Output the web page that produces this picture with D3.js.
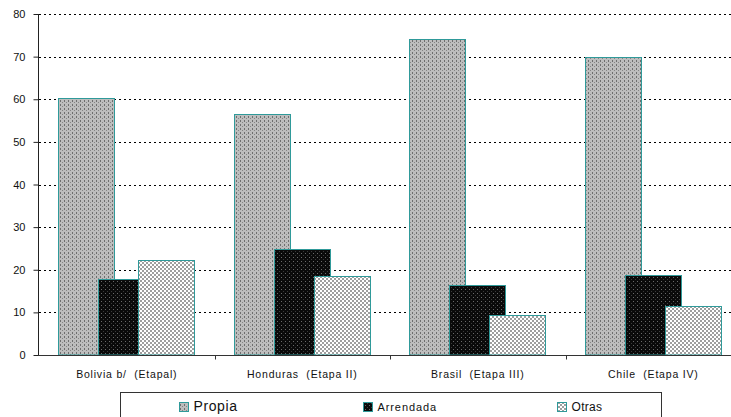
<!DOCTYPE html>
<html><head><meta charset="utf-8">
<script src="https://cdn.jsdelivr.net/npm/d3@7"></script>
<style>
html,body{margin:0;padding:0;background:#fff;}
svg{display:block;font-family:"Liberation Sans",Arial,sans-serif;}
</style></head>
<body>
<svg id="c" width="731" height="417"></svg>
<script>
const categories = ["Bolivia b/  (Etapal)", "Honduras  (Etapa II)", "Brasil  (Etapa III)", "Chile  (Etapa IV)"];
const seriesNames = ["Propia", "Arrendada", "Otras"];
const propia = [60.2, 56.6, 74.2, 69.8];
const arrendada = [17.8, 24.9, 16.4, 18.8];
const otras = [22.4, 18.5, 9.5, 11.5];
const yTicks = [0, 10, 20, 30, 40, 50, 60, 70, 80];

const seriesValues = [propia, arrendada, otras];
const patIds = ["patPropia", "patArrendada", "patOtras"];

const svg = d3.select("#c");
const defs = svg.append("defs");

// Propia pattern: light gray with darker dots
let p = defs.append("pattern").attr("id","patPropia").attr("patternUnits","userSpaceOnUse").attr("width",4).attr("height",4);
p.append("rect").attr("width",4).attr("height",4).attr("fill","#bdbdbd");
p.append("rect").attr("x",0).attr("y",0).attr("width",1).attr("height",2).attr("fill","#6e6e6e");
p.append("rect").attr("x",2).attr("y",2).attr("width",1).attr("height",1).attr("fill","#858585");
// Arrendada pattern: black with gray dots
p = defs.append("pattern").attr("id","patArrendada").attr("patternUnits","userSpaceOnUse").attr("width",4).attr("height",4);
p.append("rect").attr("width",4).attr("height",4).attr("fill","#0a0a0a");
p.append("rect").attr("x",1).attr("y",1).attr("width",1).attr("height",1).attr("fill","#6a6a6a");
p.append("rect").attr("x",3).attr("y",3).attr("width",1).attr("height",1).attr("fill","#3a3a3a");
// Otras pattern: checker
p = defs.append("pattern").attr("id","patOtras").attr("patternUnits","userSpaceOnUse").attr("width",4).attr("height",4);
p.append("rect").attr("width",4).attr("height",4).attr("fill","#ffffff");
p.append("rect").attr("x",0).attr("y",0).attr("width",2).attr("height",2).attr("fill","#9e9e9e");
p.append("rect").attr("x",2).attr("y",2).attr("width",2).attr("height",2).attr("fill","#9e9e9e");

const x = d3.scaleBand().domain(categories).range([39, 741]).paddingInner(0).paddingOuter(0);
const y = d3.scaleLinear().domain([0, 80]).range([355, 14]);

const bw = x.bandwidth();
const barW = bw * 0.325;
const step = bw * 0.228;
const lead = (bw - (2 * step + barW)) / 2;

// gridlines
svg.append("g").selectAll("line").data(yTicks.filter(d => d > 0)).join("line")
  .attr("x1", 39).attr("x2", 741)
  .attr("y1", d => Math.round(y(d)) + 0.5).attr("y2", d => Math.round(y(d)) + 0.5)
  .attr("stroke", "#000").attr("stroke-width", 1).attr("stroke-dasharray", "2,3");

// bars
seriesValues.forEach((vals, si) => {
  svg.append("g").selectAll("rect").data(vals).join("rect")
    .attr("x", (d, i) => Math.round(x(categories[i]) + lead + si * step) + 0.5)
    .attr("y", d => Math.round(y(d)) + 0.5)
    .attr("width", Math.round(barW) - 1)
    .attr("height", d => Math.round(y(0)) - Math.round(y(d)) - 0.5)
    .attr("fill", `url(#${patIds[si]})`)
    .attr("stroke", "#2f9a9a").attr("stroke-width", 1);
});

// y axis
const yAxis = d3.axisLeft(y).tickValues(yTicks).tickSize(5).tickPadding(8);
const gy = svg.append("g").attr("transform", "translate(38.5,0)").call(yAxis);
gy.select(".domain").attr("stroke", "#222").attr("d", `M0,${y(80)}V${y(0)}`);
gy.selectAll(".tick line").attr("stroke", "#222");
gy.selectAll(".tick text").attr("font-size", "11px").attr("fill", "#111")
  .attr("font-family", "Liberation Sans, Arial, sans-serif");

// x axis
const gx = svg.append("g").attr("transform", `translate(0,${Math.round(y(0)) + 0.5})`);
gx.append("line").attr("x1", 38).attr("x2", 741).attr("stroke", "#333");
gx.selectAll(".tk").data(categories.slice(1)).join("line")
  .attr("x1", d => Math.round(x(d)) + 0.5).attr("x2", d => Math.round(x(d)) + 0.5)
  .attr("y1", 0).attr("y2", 4).attr("stroke", "#333");
gx.selectAll("text").data(categories).join("text")
  .attr("x", d => x(d) + bw / 2).attr("y", 22)
  .attr("text-anchor", "middle").attr("font-size", "10.5px")
  .attr("letter-spacing", "0.8px").attr("fill", "#111")
  .style("white-space", "pre")
  .text(d => d);

// legend
const lg = svg.append("g");
lg.append("rect").attr("x", 120.5).attr("y", 392.5).attr("width", 541).attr("height", 40)
  .attr("fill", "#fff").attr("stroke", "#333").attr("stroke-width", 1);
const legendX = [179.5, 363.5, 557.5];
const legendFont = [14, 11, 12];
const legendLS = [0.6, 0.9, 0.3];
seriesNames.forEach((name, i) => {
  lg.append("rect").attr("x", legendX[i]).attr("y", 402.5).attr("width", 9).attr("height", 9)
    .attr("fill", `url(#${patIds[i]})`).attr("stroke", "#2f9a9a");
  lg.append("text").attr("x", legendX[i] + 14).attr("y", 411)
    .attr("font-size", legendFont[i] + "px").attr("letter-spacing", legendLS[i] + "px")
    .attr("fill", "#111").text(name);
});
</script>
</body></html>
